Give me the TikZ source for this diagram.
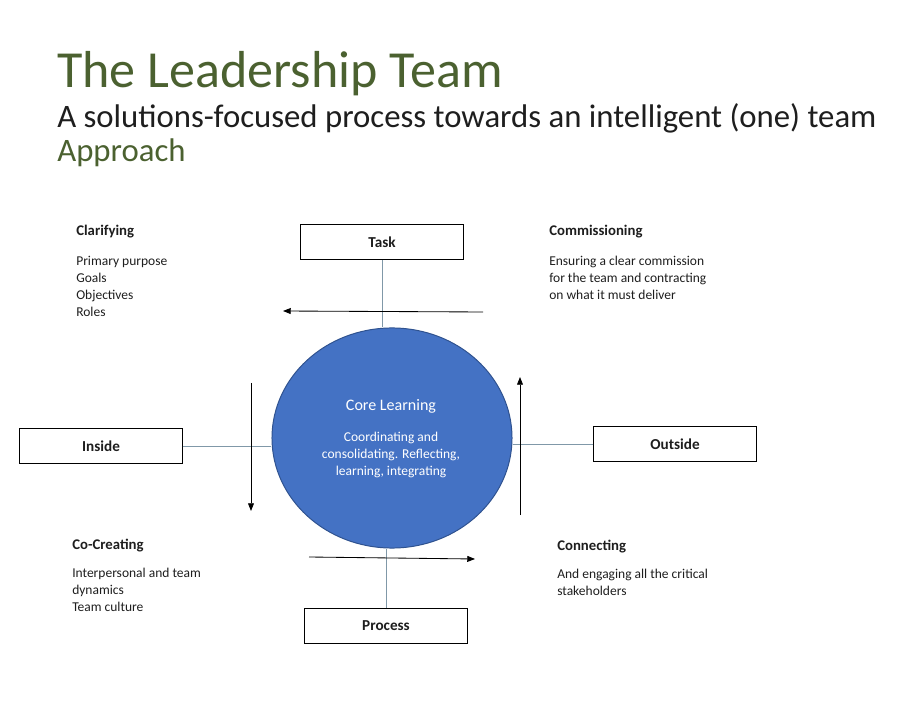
\documentclass[tikz,border=0pt]{standalone}
\usepackage{fontspec}
\setmainfont{Carlito}
\usetikzlibrary{arrows.meta,positioning,shapes.geometric}
\definecolor{titlegreen}{HTML}{4B6130}
\definecolor{ink}{HTML}{1E1E1E}
\definecolor{coreblue}{HTML}{4472C4}
\definecolor{coreedge}{HTML}{2F528F}
\definecolor{spoke}{HTML}{8098A8}

\begin{document}
\begin{tikzpicture}[x=0.025cm, y=-0.025cm,
  every node/.style={text=ink},
  heading/.style={anchor=base west, inner sep=0pt},
  quad/.style={rectangle, draw=black, line width=0.7pt, fill=white, minimum width=115.5pt, minimum height=25pt, font=\fontsize{10.8}{12}\selectfont\bfseries},
  core/.style={ellipse, draw=coreedge, line width=0.7pt, fill=coreblue, minimum width=170.7pt, minimum height=156.5pt, inner sep=0pt},
  corehead/.style={text=white, font=\fontsize{11.4}{13}\selectfont},
  corebody/.style={text=white, align=center, font=\fontsize{9.6}{12.1}\selectfont, inner sep=0pt},
  qhead/.style={anchor=base west, inner sep=0pt, font=\fontsize{10.5}{12}\selectfont\bfseries},
  qbody/.style={anchor=north west, inner sep=0pt, align=left, font=\fontsize{9.6}{12.1}\selectfont},
  spokeline/.style={draw=spoke, line width=0.6pt},
  turn/.style={-{Triangle[length=5.5pt,width=4.2pt]}, draw=black, line width=0.6pt}
]
\useasboundingbox (0,0) rectangle (900,720);

% titles
\node[heading, text=titlegreen, font=\fontsize{37}{42}\selectfont] (title) at (57,88) {The Leadership Team};
\node[heading, font=\fontsize{23.3}{27}\selectfont] (subtitle) at (57,128) {A solutions-focused process towards an intelligent (one) team};
\node[heading, text=titlegreen, font=\fontsize{23.3}{27}\selectfont] (approach) at (57,162) {Approach};

% centre and the four boxes
\node[core] (core) at (392,438) {};
\node[corehead] (corename) at (391,406) {Core Learning};
\node[corebody, anchor=north] (coretext) at (391,432) {Coordinating and\\consolidating. Reflecting,\\learning, integrating};

\node[quad] (task) at (382,242) {Task};
\node[quad] (inside) at (101,446) {Inside};
\node[quad] (outside) at (675,444) {Outside};
\node[quad] (process) at (386,626) {Process};

\draw[spokeline] (task.south) -- (task.south |- core.north);
\draw[spokeline] (process.north) -- (process.north |- core.south);
\draw[spokeline] (inside.east) -- (inside.east -| core.west);
\draw[spokeline] (outside.west) -- (outside.west -| core.east);

% turning arrows
\coordinate (topfrom) at (483,312);
\coordinate (topto) at (283,311);
\coordinate (leftfrom) at (251,383);
\coordinate (leftto) at (251,511);
\coordinate (botfrom) at (309,557);
\coordinate (botto) at (475,559);
\coordinate (rightfrom) at (520,515);
\coordinate (rightto) at (520,377);
\draw[turn] (topfrom) -- (topto);
\draw[turn] (leftfrom) -- (leftto);
\draw[turn] (botfrom) -- (botto);
\draw[turn] (rightfrom) -- (rightto);

% quadrant notes
\node[qhead] (clar) at (76,236) {Clarifying};
\node[qbody] (clartext) at (76,256) {Primary purpose\\Goals\\Objectives\\Roles};
\node[qhead] (comm) at (549,236) {Commissioning};
\node[qbody] (commtext) at (549,256) {Ensuring a clear commission\\for the team and contracting\\on what it must deliver};
\node[qhead] (cocr) at (72,549) {Co-Creating};
\node[qbody] (cocrtext) at (72,568) {Interpersonal and team\\dynamics\\Team culture};
\node[qhead] (conn) at (557,550) {Connecting};
\node[qbody] (conntext) at (557,569) {And engaging all the critical\\stakeholders};
\end{tikzpicture}
\end{document}
